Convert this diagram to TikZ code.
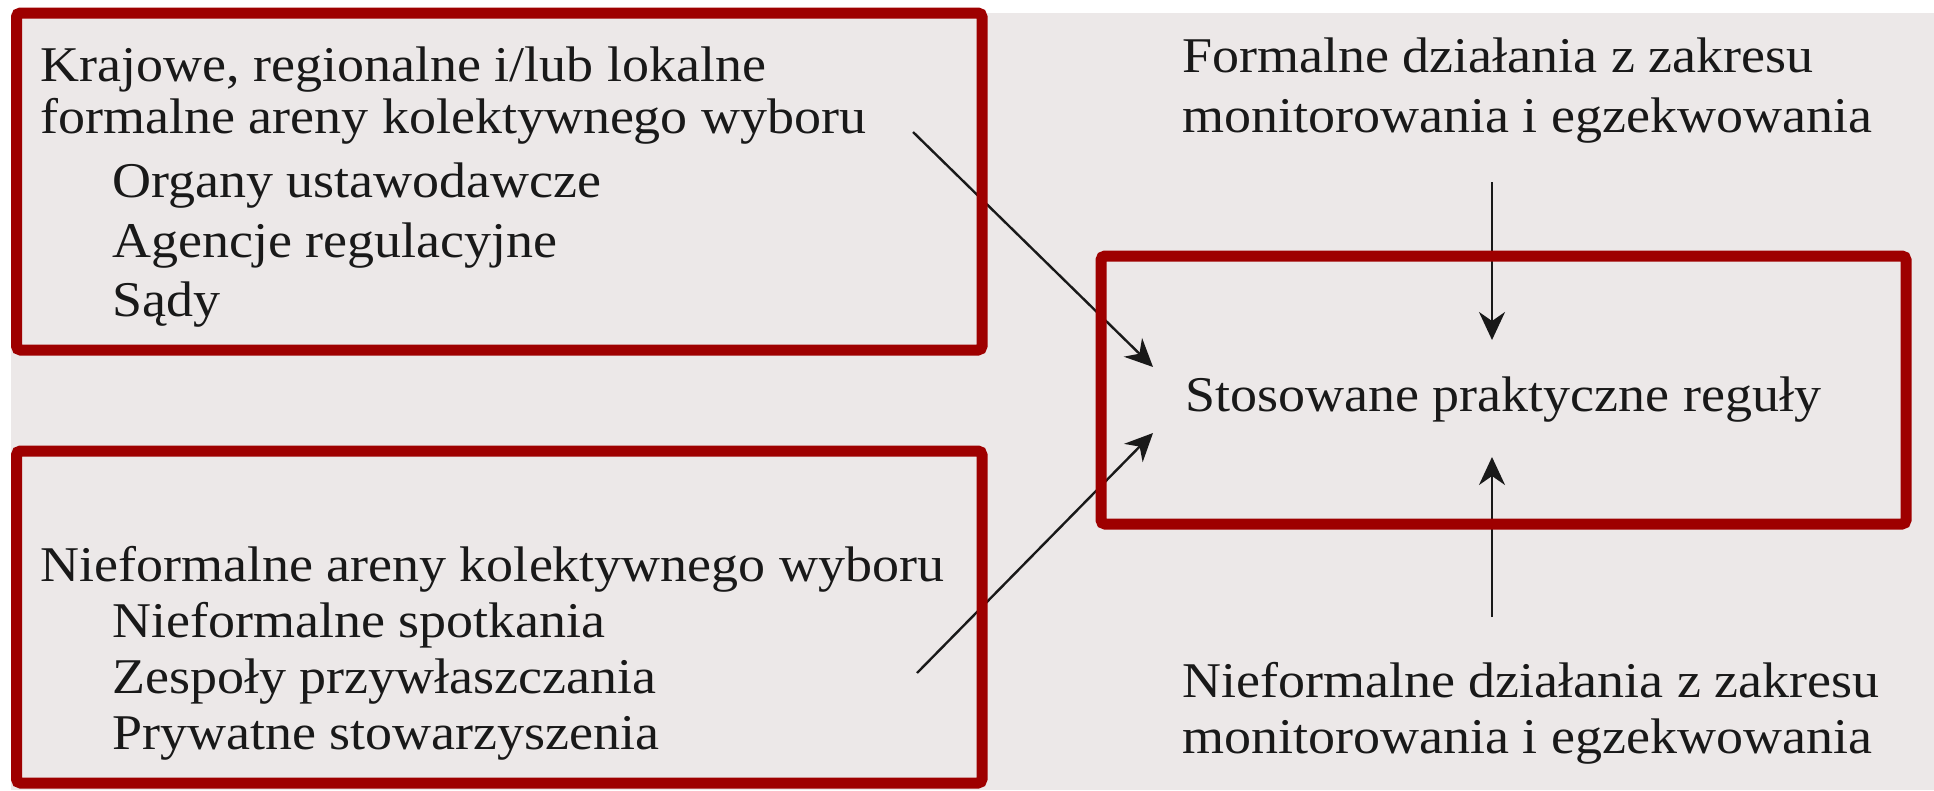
\documentclass[tikz,border=0pt]{standalone}
\usepackage{fontspec}
\setmainfont{Liberation Serif}[FakeStretch=1.08]
\usetikzlibrary{arrows.meta}
\definecolor{boxred}{RGB}{158,0,0}
\definecolor{paper}{RGB}{236,232,232}
\definecolor{ink}{RGB}{25,25,25}
\begin{document}
\begin{tikzpicture}[x=1pt,y=-1pt,
  redbox/.style={draw=boxred, line width=11pt, rounded corners=4pt, inner sep=0pt},
  lbl/.style={anchor=base west, inner sep=0pt, text=ink, font=\fontsize{50}{60}\selectfont},
  arr/.style={draw=ink, line width=2.4pt, -{Stealth[length=28pt,width=26pt,inset=9pt]}}]
\useasboundingbox (0,0) rectangle (1934,790);
\fill[white] (0,0) rectangle (1934,790);
\fill[paper] (11,13) rectangle (1934,790);
% connectors
\coordinate (a1s) at (913,132);
\coordinate (a1e) at (1153,367);
\coordinate (a2s) at (917,673);
\coordinate (a2e) at (1153,433);
\coordinate (a3s) at (1492,182);
\coordinate (a3e) at (1492,340);
\coordinate (a4s) at (1492,617);
\coordinate (a4e) at (1492,457);
\draw[arr] (a1s) -- (a1e);
\draw[arr] (a2s) -- (a2e);
\draw[arr] (a3s) -- (a3e);
\draw[arr] (a4s) -- (a4e);
% red frames
\node[redbox, minimum width=965.5pt, minimum height=337pt] (box1) at (499.25,181.5) {};
\node[redbox, minimum width=965.5pt, minimum height=332pt] (box2) at (499.25,617) {};
\node[redbox, minimum width=805pt, minimum height=268pt] (box3) at (1503.5,390) {};
% texts
\node[lbl] (k1) at (40,81) {Krajowe, regionalne i/lub lokalne};
\node[lbl] (k2) at (40,133) {formalne areny kolektywnego wyboru};
\node[lbl] (k3) at (112,197) {Organy ustawodawcze};
\node[lbl] (k4) at (112,257) {Agencje regulacyjne};
\node[lbl] (k5) at (112,316) {Sądy};
\node[lbl] (n1) at (40,581) {Nieformalne areny kolektywnego wyboru};
\node[lbl] (n2) at (112,637) {Nieformalne spotkania};
\node[lbl] (n3) at (112,693) {Zespoły przywłaszczania};
\node[lbl] (n4) at (112,749) {Prywatne stowarzyszenia};
\node[lbl] (f1) at (1182,72) {Formalne działania z zakresu};
\node[lbl] (f2) at (1182,132) {monitorowania i egzekwowania};
\node[lbl] (s) at (1185,411) {Stosowane praktyczne reguły};
\node[lbl] (i1) at (1182,697) {Nieformalne działania z zakresu};
\node[lbl] (i2) at (1182,753) {monitorowania i egzekwowania};
\end{tikzpicture}
\end{document}
